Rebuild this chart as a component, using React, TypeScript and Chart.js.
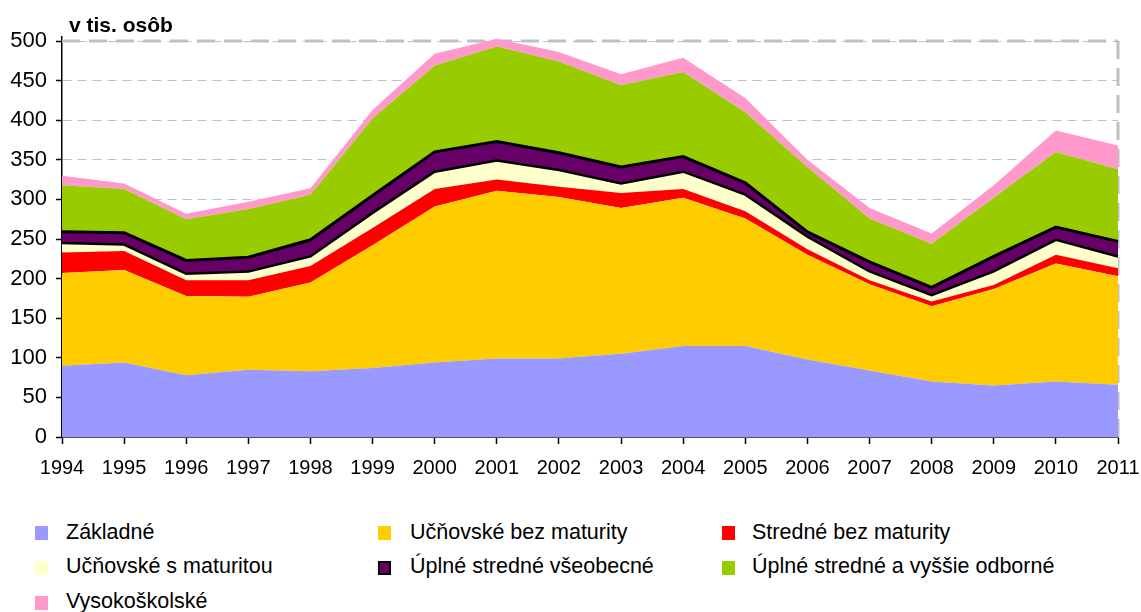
import React, { useEffect, useRef } from 'react';
import { Chart, registerables } from 'chart.js';

Chart.register(...registerables);

const years = ['1994', '1995', '1996', '1997', '1998', '1999', '2000', '2001', '2002', '2003', '2004', '2005', '2006', '2007', '2008', '2009', '2010', '2011'];

const zakladne = [90, 94, 78, 85, 83, 87, 94, 99, 99, 105, 115, 115, 98, 84, 70, 65, 70, 66];
const ucnovskeBezMaturity = [117, 117, 100, 92, 112, 155, 197, 212, 204, 184, 187, 161, 132, 109, 95, 122, 149, 137];
const stredneBezMaturity = [26, 24, 20, 21, 21, 22, 22, 14, 13, 19, 11, 9, 7, 5, 6, 5, 11, 10];
const ucnovskeSMaturitou = [12, 8, 8, 11, 12, 19, 22, 24, 21, 12, 22, 21, 16, 11, 8, 17, 19, 15];
const uplneStredneVseobecne = [14, 15, 17, 18, 21, 22, 25, 24, 22, 21, 19, 15, 6, 12, 10, 19, 16, 19];
const uplneStredneOdborne = [59, 55, 52, 61, 57, 97, 109, 120, 115, 103, 107, 89, 82, 55, 55, 74, 95, 91];
const vysokoskolske = [12, 7, 7, 9, 8, 11, 15, 10, 12, 14, 18, 18, 9, 13, 13, 16, 27, 30];

const yTicks = [0, 50, 100, 150, 200, 250, 300, 350, 400, 450, 500];
const yMaxTick = 500;

const FONT = '"Liberation Sans", Arial, Helvetica, sans-serif';

const seriesMeta = [
  { label: 'Základné', data: zakladne, color: '#9999FF' },
  { label: 'Učňovské bez maturity', data: ucnovskeBezMaturity, color: '#FFCC00' },
  { label: 'Stredné bez maturity', data: stredneBezMaturity, color: '#FF0000' },
  { label: 'Učňovské s maturitou', data: ucnovskeSMaturitou, color: '#FFFFCC', line: 2.5 },
  { label: 'Úplné stredné všeobecné', data: uplneStredneVseobecne, color: '#660066', line: 3 },
  { label: 'Úplné stredné a vyššie odborné', data: uplneStredneOdborne, color: '#99CC00' },
  { label: 'Vysokoškolské', data: vysokoskolske, color: '#FF99CC' },
];

const legendOrder = [0, 1, 2, 3, 4, 5, 6];
const legendCols = [{ box: 35, text: 66 }, { box: 378, text: 410 }, { box: 722, text: 752 }];
const legendRows = [{ box: 526, text: 520 }, { box: 561, text: 554 }, { box: 596, text: 589 }];

const plotBorder = {
  id: 'plotBorder',
  beforeDatasetsDraw(chart: any) {
    const { ctx, chartArea, scales } = chart;
    const yTop = scales.y.getPixelForValue(yMaxTick);
    const yBot = scales.y.getPixelForValue(0);
    ctx.save();
    ctx.strokeStyle = '#c0c0c0';
    ctx.lineWidth = 3;
    ctx.setLineDash([18, 9]);
    ctx.beginPath();
    ctx.moveTo(chartArea.left, yTop);
    ctx.lineTo(chartArea.right, yTop);
    ctx.moveTo(chartArea.right, yTop);
    ctx.lineTo(chartArea.right, yBot);
    ctx.stroke();
    ctx.restore();
  },
};

export default function App() {
  const ref = useRef<HTMLCanvasElement | null>(null);

  useEffect(() => {
    if (!ref.current) return;
    const datasets = seriesMeta.map((s, i) => ({
      label: s.label,
      data: s.data,
      backgroundColor: s.color,
      borderColor: s.line ? '#000000' : 'rgba(0,0,0,0)',
      borderWidth: s.line ? s.line : 1,
      fill: i === 0 ? 'origin' : '-1',
      pointRadius: 0,
      pointHoverRadius: 0,
      tension: 0,
      clip: false as any,
    }));
    const chart = new Chart(ref.current, {
      type: 'line',
      data: { labels: years, datasets },
      plugins: [plotBorder],
      options: {
        animation: false,
        responsive: false,
        devicePixelRatio: 1,
        events: [],
        layout: { padding: { top: 36.25, right: 23, left: 0, bottom: 0 } },
        plugins: {
          legend: { display: false },
          tooltip: { enabled: false },
          title: { display: false },
        },
        scales: {
          x: {
            type: 'category',
            offset: false,
            grid: {
              display: true,
              drawOnChartArea: false,
              drawTicks: true,
              tickLength: 7,
              tickColor: '#000',
              tickWidth: 1.5,
            },
            border: { display: true, color: '#555555', width: 2 },
            ticks: {
              color: '#000',
              font: { family: FONT, size: 20 },
              padding: 12,
              maxRotation: 0,
              autoSkip: false,
            },
            afterFit: (s: any) => {
              s.height = 63;
              s.paddingLeft = 0;
              s.paddingRight = 0;
            },
          },
          y: {
            stacked: true,
            min: 0,
            max: 506,
            afterBuildTicks: (s: any) => {
              s.ticks = yTicks.map((v) => ({ value: v }));
            },
            grid: {
              color: '#c0c0c0',
              lineWidth: 1,
              tickColor: '#000',
              tickLength: 6,
              tickWidth: 1.5,
              tickBorderDash: [],
            },
            border: { display: true, color: '#000', width: 1.5, dash: [9, 6] },
            ticks: {
              color: '#000',
              font: { family: FONT, size: 22 },
              padding: 9,
            },
            afterFit: (s: any) => {
              s.width = 62;
              s.paddingTop = 0;
              s.paddingBottom = 0;
            },
          },
        },
      },
    });
    return () => chart.destroy();
  }, []);

  return (
    <div style={{ position: 'absolute', left: 0, top: 0, width: 1141, height: 612, background: '#fff', fontFamily: FONT }}>
      <canvas ref={ref} width={1141} height={500} style={{ position: 'absolute', left: 0, top: 0, width: 1141, height: 500 }} />
      <div style={{ position: 'absolute', left: 69, top: 13, fontSize: 21, lineHeight: '24px', fontWeight: 'bold', color: '#000', whiteSpace: 'nowrap' }}>
        v tis. osôb
      </div>
      {legendOrder.map((idx, k) => {
        const s = seriesMeta[idx];
        const col = legendCols[k % 3];
        const row = legendRows[Math.floor(k / 3)];
        const bordered = idx === 4;
        return (
          <React.Fragment key={s.label}>
            <div
              style={{
                position: 'absolute',
                left: col.box,
                top: row.box,
                width: 13,
                height: 14,
                boxSizing: 'border-box',
                background: s.color,
                border: bordered ? '2px solid #000' : 'none',
              }}
            />
            <div
              style={{
                position: 'absolute',
                left: col.text,
                top: row.text,
                fontSize: 21.5,
                lineHeight: '24px',
                color: '#000',
                whiteSpace: 'nowrap',
              }}
            >
              {s.label}
            </div>
          </React.Fragment>
        );
      })}
    </div>
  );
}
